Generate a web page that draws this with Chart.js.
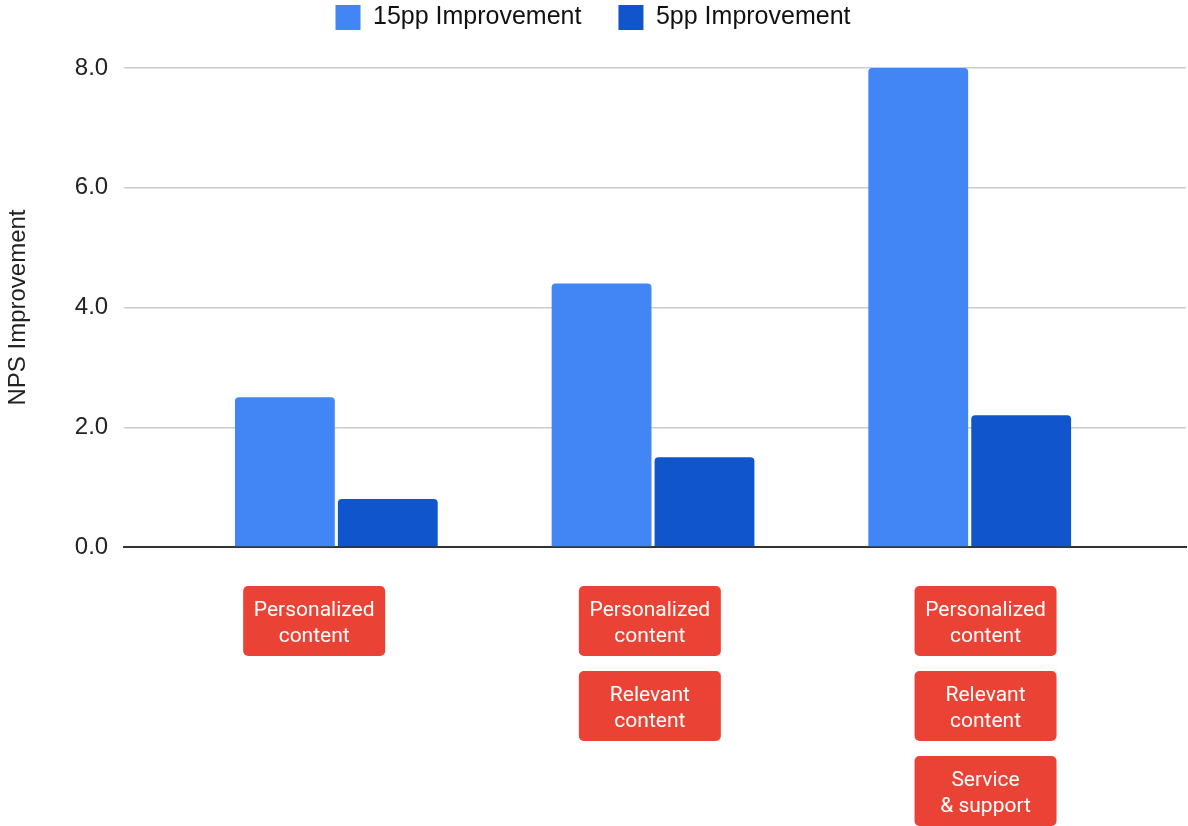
<!DOCTYPE html>
<html>
<head>
<meta charset="utf-8">
<script src="https://cdn.jsdelivr.net/npm/chart.js@4/dist/chart.umd.min.js"></script>
<style>
  html, body { margin: 0; padding: 0; background: #fff; }
  #wrap { width: 1188px; height: 826px; position: relative; }
</style>
</head>
<body>
<div id="wrap"><canvas id="nps"></canvas></div>
<script>
// one entry per group, x = group index on the linear x axis
const groups = [0, 1, 2];
const seriesNames = ["15pp Improvement", "5pp Improvement"];
const improve15 = [2.5, 4.4, 8.0];
const improve5 = [0.8, 1.5, 2.2];
const yTicks = [0, 2, 4, 6, 8];

// red tags listed under each group
const groupTags = [
  [["Personalized", "content"]],
  [["Personalized", "content"], ["Relevant", "content"]],
  [["Personalized", "content"], ["Relevant", "content"], ["Service", "& support"]]
];
// where each tag column sits, in x axis units
const tagColumnAt = [-0.07, 0.99, 2.05];

const FONT = "'Liberation Sans', Arial, sans-serif";

const tagPlugin = {
  id: 'groupTags',
  afterDraw(chart) {
    const ctx = chart.ctx;
    const xs = chart.scales.x;
    const base = chart.chartArea.bottom;
    const w = 142, h = 70, step = 85, first = 39;
    ctx.save();
    groupTags.forEach(function (tags, i) {
      const cx = xs.getPixelForValue(tagColumnAt[i]);
      tags.forEach(function (lines, j) {
        const top = base + first + j * step;
        ctx.fillStyle = '#EA4335';
        ctx.beginPath();
        ctx.roundRect(cx - w / 2, top, w, h, 5);
        ctx.fill();
        ctx.fillStyle = '#ffffff';
        ctx.font = '21px Roboto';
        ctx.textAlign = 'center';
        ctx.textBaseline = 'middle';
        ctx.fillText(lines[0], cx, top + 25);
        ctx.fillText(lines[1], cx, top + 51);
      });
    });
    ctx.restore();
  }
};

// extra room between the legend and the plot
const legendGap = {
  id: 'legendGap',
  beforeInit(chart) {
    const fit = chart.legend.fit;
    chart.legend.fit = function () {
      fit.bind(chart.legend)();
      this.height += 28;
    };
  }
};

let context = document.querySelector('#nps').getContext('2d');
new Chart(context, {
  type: 'bar',
  data: {
    datasets: [{
      label: seriesNames[0],
      backgroundColor: '#4285F4',
      data: groups.map((g, i) => ({ x: g, y: improve15[i] }))
    }, {
      label: seriesNames[1],
      backgroundColor: '#1155CC',
      data: groups.map((g, i) => ({ x: g, y: improve5[i] }))
    }]
  },
  options: {
    responsive: true,
    maintainAspectRatio: false,
    animation: false,
    categoryPercentage: 0.65,
    barPercentage: 0.97,
    borderRadius: 4,
    layout: { padding: { top: -32, right: 2, bottom: 279, left: 0 } },
    plugins: {
      tooltip: { enabled: false },
      legend: {
        position: 'top',
        labels: {
          boxWidth: 25,
          boxHeight: 25,
          padding: 37,
          color: '#111',
          font: { family: FONT, size: 25 }
        }
      }
    },
    scales: {
      x: {
        type: 'linear',
        offset: false,
        min: -0.67,
        max: 2.683,
        grid: { display: false, drawTicks: false, offset: false },
        border: { display: true, color: '#333', width: 2 },
        ticks: { display: false, stepSize: 1, includeBounds: false }
      },
      y: {
        min: 0,
        max: 8,
        afterBuildTicks: function (axis) {
          axis.ticks = yTicks.map(v => ({ value: v }));
        },
        grid: { color: '#cccccc', lineWidth: 1.5, drawTicks: false },
        border: { display: false },
        ticks: {
          padding: 16,
          color: '#222',
          font: { family: FONT, size: 24 },
          callback: v => v.toFixed(1)
        },
        title: {
          display: true,
          text: 'NPS Improvement',
          color: '#222',
          padding: { top: 4, bottom: 26 },
          font: { family: FONT, size: 24 }
        }
      }
    }
  },
  plugins: [tagPlugin, legendGap]
});
</script>
</body>
</html>
